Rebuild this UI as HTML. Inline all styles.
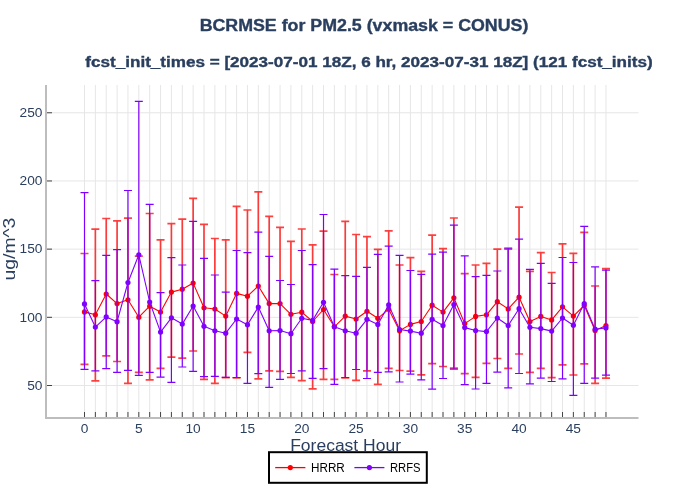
<!DOCTYPE html><html><head><meta charset="utf-8"><title>BCRMSE for PM2.5</title>
<style>html,body{margin:0;padding:0;background:#fff;}svg{display:block;will-change:transform;}text{font-family:"Liberation Sans",sans-serif;}</style></head><body>
<svg width="700" height="500" viewBox="0 0 700 500">
<rect width="700" height="500" fill="#fff"/>
<path d="M84.50,85V417M95.36,85V417M106.23,85V417M117.09,85V417M127.96,85V417M138.82,85V417M149.68,85V417M160.55,85V417M171.41,85V417M182.28,85V417M193.14,85V417M204.00,85V417M214.87,85V417M225.73,85V417M236.60,85V417M247.46,85V417M258.32,85V417M269.19,85V417M280.05,85V417M290.92,85V417M301.78,85V417M312.64,85V417M323.51,85V417M334.37,85V417M345.24,85V417M356.10,85V417M366.96,85V417M377.83,85V417M388.69,85V417M399.56,85V417M410.42,85V417M421.28,85V417M432.15,85V417M443.01,85V417M453.88,85V417M464.74,85V417M475.60,85V417M486.47,85V417M497.33,85V417M508.20,85V417M519.06,85V417M529.92,85V417M540.79,85V417M551.65,85V417M562.52,85V417M573.38,85V417M584.24,85V417M595.11,85V417M605.97,85V417M47,385.50H638.5M47,317.32H638.5M47,249.14H638.5M47,180.96H638.5M47,112.78H638.5" stroke="#e6e6e6" stroke-width="1" fill="none"/>
<path d="M46,85V419" stroke="#bdbdbd" stroke-width="2" fill="none"/>
<path d="M45,418H638.5" stroke="#bdbdbd" stroke-width="2" fill="none"/>
<path d="M84.50,417V412M95.36,417V412M106.23,417V412M117.09,417V412M127.96,417V412M138.82,417V412M149.68,417V412M160.55,417V412M171.41,417V412M182.28,417V412M193.14,417V412M204.00,417V412M214.87,417V412M225.73,417V412M236.60,417V412M247.46,417V412M258.32,417V412M269.19,417V412M280.05,417V412M290.92,417V412M301.78,417V412M312.64,417V412M323.51,417V412M334.37,417V412M345.24,417V412M356.10,417V412M366.96,417V412M377.83,417V412M388.69,417V412M399.56,417V412M410.42,417V412M421.28,417V412M432.15,417V412M443.01,417V412M453.88,417V412M464.74,417V412M475.60,417V412M486.47,417V412M497.33,417V412M508.20,417V412M519.06,417V412M529.92,417V412M540.79,417V412M551.65,417V412M562.52,417V412M573.38,417V412M584.24,417V412M595.11,417V412M605.97,417V412M47,385.50H52M47,317.32H52M47,249.14H52M47,180.96H52M47,112.78H52" stroke="#444444" stroke-width="1" fill="none"/>
<text id="y50" x="42.50" y="389.80" font-size="12" font-weight="normal" fill="#2a3f5f" text-anchor="end" textLength="15.26" lengthAdjust="spacingAndGlyphs">50</text>
<text id="y100" x="42.50" y="321.62" font-size="12" font-weight="normal" fill="#2a3f5f" text-anchor="end" textLength="22.89" lengthAdjust="spacingAndGlyphs">100</text>
<text id="y150" x="42.50" y="253.44" font-size="12" font-weight="normal" fill="#2a3f5f" text-anchor="end" textLength="22.89" lengthAdjust="spacingAndGlyphs">150</text>
<text id="y200" x="42.50" y="185.26" font-size="12" font-weight="normal" fill="#2a3f5f" text-anchor="end" textLength="22.89" lengthAdjust="spacingAndGlyphs">200</text>
<text id="y250" x="42.50" y="117.08" font-size="12" font-weight="normal" fill="#2a3f5f" text-anchor="end" textLength="22.89" lengthAdjust="spacingAndGlyphs">250</text>
<text id="x0" x="84.50" y="432.70" font-size="12" font-weight="normal" fill="#2a3f5f" text-anchor="middle" textLength="7.63" lengthAdjust="spacingAndGlyphs">0</text>
<text id="x5" x="138.82" y="432.70" font-size="12" font-weight="normal" fill="#2a3f5f" text-anchor="middle" textLength="7.63" lengthAdjust="spacingAndGlyphs">5</text>
<text id="x10" x="193.14" y="432.70" font-size="12" font-weight="normal" fill="#2a3f5f" text-anchor="middle" textLength="15.26" lengthAdjust="spacingAndGlyphs">10</text>
<text id="x15" x="247.46" y="432.70" font-size="12" font-weight="normal" fill="#2a3f5f" text-anchor="middle" textLength="15.26" lengthAdjust="spacingAndGlyphs">15</text>
<text id="x20" x="301.78" y="432.70" font-size="12" font-weight="normal" fill="#2a3f5f" text-anchor="middle" textLength="15.26" lengthAdjust="spacingAndGlyphs">20</text>
<text id="x25" x="356.10" y="432.70" font-size="12" font-weight="normal" fill="#2a3f5f" text-anchor="middle" textLength="15.26" lengthAdjust="spacingAndGlyphs">25</text>
<text id="x30" x="410.42" y="432.70" font-size="12" font-weight="normal" fill="#2a3f5f" text-anchor="middle" textLength="15.26" lengthAdjust="spacingAndGlyphs">30</text>
<text id="x35" x="464.74" y="432.70" font-size="12" font-weight="normal" fill="#2a3f5f" text-anchor="middle" textLength="15.26" lengthAdjust="spacingAndGlyphs">35</text>
<text id="x40" x="519.06" y="432.70" font-size="12" font-weight="normal" fill="#2a3f5f" text-anchor="middle" textLength="15.26" lengthAdjust="spacingAndGlyphs">40</text>
<text id="x45" x="573.38" y="432.70" font-size="12" font-weight="normal" fill="#2a3f5f" text-anchor="middle" textLength="15.26" lengthAdjust="spacingAndGlyphs">45</text>
<text id="xtitle" x="345.60" y="450.80" font-size="16" font-weight="normal" fill="#2a3f5f" text-anchor="middle" textLength="110.81" lengthAdjust="spacingAndGlyphs">Forecast Hour</text>
<text id="ytitle" transform="translate(15.20,249.10) rotate(-90)" x="0" y="0" font-size="16" font-weight="normal" fill="#2a3f5f" text-anchor="middle" textLength="62.81" lengthAdjust="spacingAndGlyphs">ug/m^3</text>
<text id="title" x="364.00" y="30.70" font-size="16" font-weight="bold" fill="#2a3f5f" stroke="#2a3f5f" stroke-width="0.35" text-anchor="middle" textLength="328.71" lengthAdjust="spacingAndGlyphs">BCRMSE for PM2.5 (vxmask = CONUS)</text>
<text id="subtitle" x="369.00" y="66.80" font-size="14" font-weight="bold" fill="#2a3f5f" stroke="#2a3f5f" stroke-width="0.35" text-anchor="middle" textLength="567.34" lengthAdjust="spacingAndGlyphs">fcst_init_times = [2023-07-01 18Z, 6 hr, 2023-07-31 18Z] (121 fcst_inits)</text>
<path d="M80.50,253.50h8m-4,0V364.40m-4,0h8M91.36,229.20h8m-4,0V380.90m-4,0h8M102.23,218.50h8m-4,0V355.90m-4,0h8M113.09,220.90h8m-4,0V361.50m-4,0h8M123.96,218.20h8m-4,0V383.30m-4,0h8M134.82,256.10h8m-4,0V372.40m-4,0h8M145.68,213.50h8m-4,0V379.90m-4,0h8M156.55,239.80h8m-4,0V368.40m-4,0h8M167.41,223.60h8m-4,0V357.20m-4,0h8M178.28,219.10h8m-4,0V358.20m-4,0h8M189.14,198.30h8m-4,0V351.00m-4,0h8M200.00,224.40h8m-4,0V379.40m-4,0h8M210.87,238.50h8m-4,0V383.30m-4,0h8M221.73,239.90h8m-4,0V377.60m-4,0h8M232.60,206.30h8m-4,0V377.90m-4,0h8M243.46,210.00h8m-4,0V352.40m-4,0h8M254.32,191.90h8m-4,0V378.80m-4,0h8M265.19,216.30h8m-4,0V370.80m-4,0h8M276.05,227.30h8m-4,0V371.30m-4,0h8M286.92,241.40h8m-4,0V377.40m-4,0h8M297.78,229.00h8m-4,0V380.60m-4,0h8M308.64,244.90h8m-4,0V388.90m-4,0h8M319.51,231.10h8m-4,0V379.30m-4,0h8M330.37,274.50h8m-4,0V379.40m-4,0h8M341.24,221.40h8m-4,0V378.00m-4,0h8M352.10,234.50h8m-4,0V380.40m-4,0h8M362.96,236.70h8m-4,0V370.80m-4,0h8M373.83,249.40h8m-4,0V384.40m-4,0h8M384.69,230.80h8m-4,0V368.40m-4,0h8M395.56,265.00h8m-4,0V370.50m-4,0h8M406.42,257.70h8m-4,0V371.10m-4,0h8M417.28,271.40h8m-4,0V374.80m-4,0h8M428.15,235.10h8m-4,0V363.60m-4,0h8M439.01,248.60h8m-4,0V366.50m-4,0h8M449.88,218.00h8m-4,0V368.10m-4,0h8M460.74,273.70h8m-4,0V373.70m-4,0h8M471.60,265.00h8m-4,0V377.40m-4,0h8M482.47,263.40h8m-4,0V363.40m-4,0h8M493.33,249.20h8m-4,0V358.50m-4,0h8M504.20,249.20h8m-4,0V368.40m-4,0h8M515.06,207.10h8m-4,0V354.00m-4,0h8M525.92,271.30h8m-4,0V372.40m-4,0h8M536.79,252.60h8m-4,0V368.40m-4,0h8M547.65,272.50h8m-4,0V377.70m-4,0h8M558.52,243.80h8m-4,0V364.90m-4,0h8M569.38,253.40h8m-4,0V375.00m-4,0h8M580.24,232.40h8m-4,0V363.80m-4,0h8M591.11,286.00h8m-4,0V383.30m-4,0h8M601.97,268.60h8m-4,0V378.20m-4,0h8" stroke="#ff0000" stroke-width="1.7" stroke-opacity="0.75" fill="none"/>
<path d="M84.50,311.90L95.36,314.80L106.23,294.00L117.09,303.60L127.96,299.80L138.82,317.20L149.68,306.20L160.55,312.10L171.41,292.10L182.28,289.20L193.14,283.10L204.00,307.80L214.87,309.00L225.73,316.10L236.60,293.40L247.46,296.20L258.32,286.00L269.19,303.60L280.05,303.60L290.92,314.30L301.78,312.20L312.64,321.50L323.51,309.50L334.37,326.80L345.24,316.10L356.10,319.00L366.96,311.30L377.83,318.30L388.69,309.20L399.56,330.80L410.42,324.40L421.28,321.50L432.15,305.20L443.01,312.10L453.88,297.80L464.74,323.60L475.60,316.40L486.47,314.80L497.33,301.70L508.20,308.90L519.06,297.20L529.92,321.50L540.79,316.40L551.65,319.90L562.52,306.80L573.38,316.10L584.24,305.50L595.11,330.50L605.97,325.50" stroke="#ff0000" stroke-width="1.1" fill="none" stroke-linejoin="round"/>
<g fill="#ff0000"><circle cx="84.50" cy="311.90" r="2.6"/><circle cx="95.36" cy="314.80" r="2.6"/><circle cx="106.23" cy="294.00" r="2.6"/><circle cx="117.09" cy="303.60" r="2.6"/><circle cx="127.96" cy="299.80" r="2.6"/><circle cx="138.82" cy="317.20" r="2.6"/><circle cx="149.68" cy="306.20" r="2.6"/><circle cx="160.55" cy="312.10" r="2.6"/><circle cx="171.41" cy="292.10" r="2.6"/><circle cx="182.28" cy="289.20" r="2.6"/><circle cx="193.14" cy="283.10" r="2.6"/><circle cx="204.00" cy="307.80" r="2.6"/><circle cx="214.87" cy="309.00" r="2.6"/><circle cx="225.73" cy="316.10" r="2.6"/><circle cx="236.60" cy="293.40" r="2.6"/><circle cx="247.46" cy="296.20" r="2.6"/><circle cx="258.32" cy="286.00" r="2.6"/><circle cx="269.19" cy="303.60" r="2.6"/><circle cx="280.05" cy="303.60" r="2.6"/><circle cx="290.92" cy="314.30" r="2.6"/><circle cx="301.78" cy="312.20" r="2.6"/><circle cx="312.64" cy="321.50" r="2.6"/><circle cx="323.51" cy="309.50" r="2.6"/><circle cx="334.37" cy="326.80" r="2.6"/><circle cx="345.24" cy="316.10" r="2.6"/><circle cx="356.10" cy="319.00" r="2.6"/><circle cx="366.96" cy="311.30" r="2.6"/><circle cx="377.83" cy="318.30" r="2.6"/><circle cx="388.69" cy="309.20" r="2.6"/><circle cx="399.56" cy="330.80" r="2.6"/><circle cx="410.42" cy="324.40" r="2.6"/><circle cx="421.28" cy="321.50" r="2.6"/><circle cx="432.15" cy="305.20" r="2.6"/><circle cx="443.01" cy="312.10" r="2.6"/><circle cx="453.88" cy="297.80" r="2.6"/><circle cx="464.74" cy="323.60" r="2.6"/><circle cx="475.60" cy="316.40" r="2.6"/><circle cx="486.47" cy="314.80" r="2.6"/><circle cx="497.33" cy="301.70" r="2.6"/><circle cx="508.20" cy="308.90" r="2.6"/><circle cx="519.06" cy="297.20" r="2.6"/><circle cx="529.92" cy="321.50" r="2.6"/><circle cx="540.79" cy="316.40" r="2.6"/><circle cx="551.65" cy="319.90" r="2.6"/><circle cx="562.52" cy="306.80" r="2.6"/><circle cx="573.38" cy="316.10" r="2.6"/><circle cx="584.24" cy="305.50" r="2.6"/><circle cx="595.11" cy="330.50" r="2.6"/><circle cx="605.97" cy="325.50" r="2.6"/></g>
<path d="M80.50,192.60h8m-4,0V369.40m-4,0h8M91.36,280.60h8m-4,0V370.80m-4,0h8M102.23,255.30h8m-4,0V368.70m-4,0h8M113.09,249.70h8m-4,0V372.40m-4,0h8M123.96,190.50h8m-4,0V370.30m-4,0h8M134.82,101.40h8m-4,0V375.30m-4,0h8M145.68,204.40h8m-4,0V372.40m-4,0h8M156.55,292.70h8m-4,0V377.20m-4,0h8M167.41,257.60h8m-4,0V382.30m-4,0h8M178.28,265.00h8m-4,0V367.00m-4,0h8M189.14,221.40h8m-4,0V371.40m-4,0h8M200.00,258.30h8m-4,0V376.70m-4,0h8M210.87,275.00h8m-4,0V376.40m-4,0h8M221.73,292.20h8m-4,0V377.30m-4,0h8M232.60,250.50h8m-4,0V377.50m-4,0h8M243.46,252.70h8m-4,0V383.30m-4,0h8M254.32,232.10h8m-4,0V373.70m-4,0h8M265.19,256.40h8m-4,0V387.30m-4,0h8M276.05,280.50h8m-4,0V379.40m-4,0h8M286.92,284.50h8m-4,0V373.50m-4,0h8M297.78,250.50h8m-4,0V370.80m-4,0h8M308.64,264.70h8m-4,0V378.30m-4,0h8M319.51,214.50h8m-4,0V368.70m-4,0h8M330.37,269.20h8m-4,0V384.40m-4,0h8M341.24,275.70h8m-4,0V377.50m-4,0h8M352.10,276.30h8m-4,0V369.50m-4,0h8M362.96,267.30h8m-4,0V378.50m-4,0h8M373.83,254.30h8m-4,0V372.40m-4,0h8M384.69,246.20h8m-4,0V371.90m-4,0h8M395.56,255.40h8m-4,0V382.00m-4,0h8M406.42,270.50h8m-4,0V374.20m-4,0h8M417.28,274.30h8m-4,0V379.80m-4,0h8M428.15,254.20h8m-4,0V389.20m-4,0h8M439.01,252.10h8m-4,0V378.50m-4,0h8M449.88,225.10h8m-4,0V369.20m-4,0h8M460.74,255.90h8m-4,0V384.70m-4,0h8M471.60,276.60h8m-4,0V389.00m-4,0h8M482.47,275.40h8m-4,0V383.40m-4,0h8M493.33,271.00h8m-4,0V372.20m-4,0h8M504.20,248.10h8m-4,0V387.90m-4,0h8M515.06,239.10h8m-4,0V373.50m-4,0h8M525.92,269.40h8m-4,0V383.90m-4,0h8M536.79,263.40h8m-4,0V378.20m-4,0h8M547.65,283.30h8m-4,0V381.50m-4,0h8M558.52,257.50h8m-4,0V378.80m-4,0h8M569.38,262.50h8m-4,0V395.40m-4,0h8M580.24,226.40h8m-4,0V383.30m-4,0h8M591.11,266.80h8m-4,0V378.20m-4,0h8M601.97,270.20h8m-4,0V375.10m-4,0h8" stroke="#8000ff" stroke-width="1.2" fill="none"/>
<path d="M84.50,303.90L95.36,327.10L106.23,316.90L117.09,321.70L127.96,282.50L138.82,254.80L149.68,302.00L160.55,332.10L171.41,317.80L182.28,324.10L193.14,306.00L204.00,326.30L214.87,330.80L225.73,333.20L236.60,319.00L247.46,324.70L258.32,307.10L269.19,330.80L280.05,330.50L290.92,333.70L301.78,318.30L312.64,320.40L323.51,302.30L334.37,326.80L345.24,330.80L356.10,333.20L366.96,319.30L377.83,324.40L388.69,304.90L399.56,329.50L410.42,331.10L421.28,333.20L432.15,319.30L443.01,325.50L453.88,304.60L464.74,327.60L475.60,330.50L486.47,331.60L497.33,318.00L508.20,325.50L519.06,308.70L529.92,327.30L540.79,328.60L551.65,331.10L562.52,318.00L573.38,325.20L584.24,303.60L595.11,329.20L605.97,327.90" stroke="#8000ff" stroke-width="1.1" fill="none" stroke-linejoin="round"/>
<g fill="#8000ff"><circle cx="84.50" cy="303.90" r="2.6"/><circle cx="95.36" cy="327.10" r="2.6"/><circle cx="106.23" cy="316.90" r="2.6"/><circle cx="117.09" cy="321.70" r="2.6"/><circle cx="127.96" cy="282.50" r="2.6"/><circle cx="138.82" cy="254.80" r="2.6"/><circle cx="149.68" cy="302.00" r="2.6"/><circle cx="160.55" cy="332.10" r="2.6"/><circle cx="171.41" cy="317.80" r="2.6"/><circle cx="182.28" cy="324.10" r="2.6"/><circle cx="193.14" cy="306.00" r="2.6"/><circle cx="204.00" cy="326.30" r="2.6"/><circle cx="214.87" cy="330.80" r="2.6"/><circle cx="225.73" cy="333.20" r="2.6"/><circle cx="236.60" cy="319.00" r="2.6"/><circle cx="247.46" cy="324.70" r="2.6"/><circle cx="258.32" cy="307.10" r="2.6"/><circle cx="269.19" cy="330.80" r="2.6"/><circle cx="280.05" cy="330.50" r="2.6"/><circle cx="290.92" cy="333.70" r="2.6"/><circle cx="301.78" cy="318.30" r="2.6"/><circle cx="312.64" cy="320.40" r="2.6"/><circle cx="323.51" cy="302.30" r="2.6"/><circle cx="334.37" cy="326.80" r="2.6"/><circle cx="345.24" cy="330.80" r="2.6"/><circle cx="356.10" cy="333.20" r="2.6"/><circle cx="366.96" cy="319.30" r="2.6"/><circle cx="377.83" cy="324.40" r="2.6"/><circle cx="388.69" cy="304.90" r="2.6"/><circle cx="399.56" cy="329.50" r="2.6"/><circle cx="410.42" cy="331.10" r="2.6"/><circle cx="421.28" cy="333.20" r="2.6"/><circle cx="432.15" cy="319.30" r="2.6"/><circle cx="443.01" cy="325.50" r="2.6"/><circle cx="453.88" cy="304.60" r="2.6"/><circle cx="464.74" cy="327.60" r="2.6"/><circle cx="475.60" cy="330.50" r="2.6"/><circle cx="486.47" cy="331.60" r="2.6"/><circle cx="497.33" cy="318.00" r="2.6"/><circle cx="508.20" cy="325.50" r="2.6"/><circle cx="519.06" cy="308.70" r="2.6"/><circle cx="529.92" cy="327.30" r="2.6"/><circle cx="540.79" cy="328.60" r="2.6"/><circle cx="551.65" cy="331.10" r="2.6"/><circle cx="562.52" cy="318.00" r="2.6"/><circle cx="573.38" cy="325.20" r="2.6"/><circle cx="584.24" cy="303.60" r="2.6"/><circle cx="595.11" cy="329.20" r="2.6"/><circle cx="605.97" cy="327.90" r="2.6"/></g>
<rect x="269" y="452.2" width="157.8" height="30.6" fill="#fff" stroke="#000" stroke-width="2"/>
<path d="M275.2,467.6H305.4" stroke="#ff0000" stroke-width="1.3"/><circle cx="290.3" cy="467.6" r="2.6" fill="#ff0000"/>
<text id="HRRR" x="311.00" y="471.80" font-size="12" font-weight="normal" fill="#000" text-anchor="start" textLength="33.83" lengthAdjust="spacingAndGlyphs">HRRR</text>
<path d="M354.4,467.6H384.4" stroke="#8000ff" stroke-width="1.3"/><circle cx="369.4" cy="467.6" r="2.6" fill="#8000ff"/>
<text id="RRFS" x="390.00" y="471.80" font-size="12" font-weight="normal" fill="#000" text-anchor="start" textLength="30.57" lengthAdjust="spacingAndGlyphs">RRFS</text>
</svg></body></html>
